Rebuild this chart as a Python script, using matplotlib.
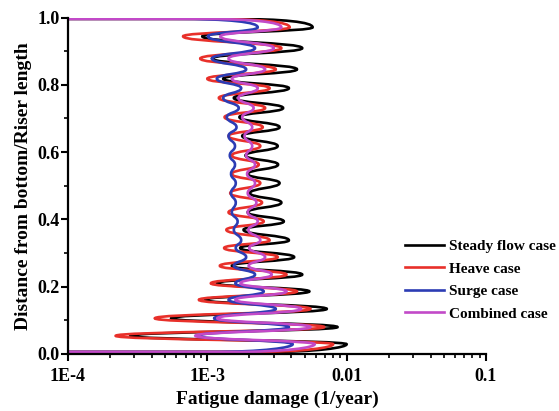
import matplotlib
matplotlib.use("Agg")
import matplotlib.pyplot as plt
from matplotlib.path import Path
from matplotlib.patches import PathPatch
from matplotlib.lines import Line2D
from matplotlib.ticker import FixedLocator, LogLocator, NullFormatter, MultipleLocator

plt.rcParams['font.family'] = ['Liberation Serif', 'DejaVu Serif']
plt.rcParams['font.weight'] = 'bold'

# Heights (fraction of riser length) of the local maxima / minima of the damage profiles
y_nodes = [0.029, 0.054, 0.080, 0.106, 0.134, 0.161, 0.186, 0.210, 0.236, 0.262,
           0.288, 0.315, 0.338, 0.369, 0.394, 0.421, 0.450, 0.478, 0.508, 0.535,
           0.563, 0.590, 0.618, 0.648, 0.674, 0.704, 0.731, 0.761, 0.790, 0.818,
           0.846, 0.878, 0.909, 0.944, 0.971]
y_bottom = 0.006
y_top = 0.996

# Fatigue damage (1/year) at those heights
steady = [0.0100, 2.8e-4, 0.0086, 5.5e-4, 0.0072, 9.6e-4, 0.0054, 1.17e-3, 0.0048, 1.5e-3,
          0.0042, 1.72e-3, 0.00385, 1.82e-3, 0.00354, 1.95e-3, 0.0034, 2.02e-3, 0.0033, 1.95e-3,
          0.00322, 1.88e-3, 0.0032, 1.78e-3, 0.0033, 1.7e-3, 0.0035, 1.55e-3, 0.00385, 1.3e-3,
          0.0044, 1.08e-3, 0.0048, 9.2e-4, 0.0057]
heave = [0.0080, 2.2e-4, 0.0069, 4.2e-4, 0.0055, 8.7e-4, 0.0044, 1.06e-3, 0.0037, 1.23e-3,
         0.0032, 1.32e-3, 0.0028, 1.37e-3, 0.00254, 1.42e-3, 0.00247, 1.46e-3, 0.0024, 1.5e-3,
         0.00234, 1.5e-3, 0.0024, 1.42e-3, 0.0025, 1.33e-3, 0.0026, 1.21e-3, 0.0028, 1.0e-3,
         0.0031, 8.9e-4, 0.0034, 6.7e-4, 0.0039]
surge = [0.0041, 8.6e-4, 0.00385, 1.12e-3, 0.0031, 1.42e-3, 0.00254, 1.59e-3, 0.0022, 1.55e-3,
         0.0019, 1.6e-3, 0.00175, 1.55e-3, 0.00165, 1.5e-3, 0.0016, 1.48e-3, 0.0016, 1.48e-3,
         0.00158, 1.45e-3, 0.00158, 1.42e-3, 0.00162, 1.38e-3, 0.00168, 1.3e-3, 0.00175, 1.17e-3,
         0.0019, 1.08e-3, 0.0022, 1.01e-3, 0.0023]
combined = [0.0059, 8.2e-4, 0.0055, 1.18e-3, 0.0047, 1.59e-3, 0.0037, 1.73e-3, 0.0029, 1.98e-3,
            0.0026, 2.0e-3, 0.0024, 1.97e-3, 0.0023, 1.95e-3, 0.00225, 1.95e-3, 0.0022, 1.93e-3,
            0.0022, 1.9e-3, 0.0021, 1.85e-3, 0.0021, 1.78e-3, 0.00215, 1.67e-3, 0.0023, 1.5e-3,
            0.0026, 1.42e-3, 0.0030, 1.24e-3, 0.0034]

labels = ['Steady flow case', 'Heave case', 'Surge case', 'Combined case']
colors = ['#000000', '#e8302a', '#2c3cb4', '#c24ac8']

x_ticks = [1e-4, 1e-3, 1e-2, 1e-1]
x_ticklabels = ['1E-4', '1E-3', '0.01', '0.1']
y_ticks = [0.0, 0.2, 0.4, 0.6, 0.8, 1.0]


def profile_path(xs, ys):
    """Smooth profile through the extrema (vertical tangents), with tails
    running off to the left along the riser ends."""
    k = 0.5
    verts, codes = [], []
    far = 1e-6
    x0, y0 = xs[0], ys[0]
    verts += [(far, y_bottom), (x0 * 10 ** -0.6, y_bottom)]
    codes += [Path.MOVETO, Path.LINETO]
    verts += [(x0 * 10 ** -0.2, y_bottom), (x0, y_bottom + 0.6 * (y0 - y_bottom)), (x0, y0)]
    codes += [Path.CURVE4] * 3
    for i in range(len(xs) - 1):
        xa, ya, xb, yb = xs[i], ys[i], xs[i + 1], ys[i + 1]
        dy = yb - ya
        verts += [(xa, ya + k * dy), (xb, yb - k * dy), (xb, yb)]
        codes += [Path.CURVE4] * 3
    xn, yn = xs[-1], ys[-1]
    verts += [(xn, yn + 0.6 * (y_top - yn)), (xn * 10 ** -0.2, y_top), (xn * 10 ** -0.6, y_top)]
    codes += [Path.CURVE4] * 3
    verts += [(far, y_top)]
    codes += [Path.LINETO]
    return Path(verts, codes)


fig = plt.figure(figsize=(5.59, 4.11), dpi=100)
ax = fig.add_axes([0.1216, 0.1387, 0.7478, 0.8187])
ax.set_xscale('log')
ax.set_xlim(1e-4, 1e-1)
ax.set_ylim(0.0, 1.0)

for xs, c in zip([steady, heave, surge, combined], colors):
    patch = PathPatch(profile_path(xs, y_nodes), facecolor='none', edgecolor=c,
                      lw=1.9, transform=ax.transData, clip_on=True, capstyle='butt')
    ax.add_patch(patch)

for side in ['top', 'right']:
    ax.spines[side].set_visible(False)
for side in ['left', 'bottom']:
    ax.spines[side].set_linewidth(1.6)

ax.xaxis.set_major_locator(FixedLocator(x_ticks))
ax.set_xticklabels(x_ticklabels)
ax.xaxis.set_minor_locator(LogLocator(base=10, subs=range(2, 10)))
ax.xaxis.set_minor_formatter(NullFormatter())
ax.yaxis.set_major_locator(FixedLocator(y_ticks))
ax.set_yticklabels([f'{v:.1f}' for v in y_ticks])
ax.yaxis.set_minor_locator(MultipleLocator(0.1))
ax.tick_params(which='major', direction='out', length=5, width=1.5, labelsize=13)
ax.tick_params(axis='x', which='major', pad=5)
ax.tick_params(axis='y', which='major', pad=1)
ax.tick_params(which='minor', direction='out', length=3, width=1.2)
for t in ax.get_xticklabels() + ax.get_yticklabels():
    t.set_fontweight('bold')

ax.set_xlabel('Fatigue damage (1/year)', fontsize=14, fontweight='bold', labelpad=4)
ax.set_ylabel('Distance from bottom/Riser length', fontsize=14, fontweight='bold', labelpad=4)

handles = [Line2D([], [], color=c, lw=1.9) for c in colors]
fig.legend(handles, labels, loc='center left', bbox_to_anchor=(394 / 559, 1 - 280 / 411),
           frameon=False, prop={'family': 'Liberation Serif', 'weight': 'bold', 'size': 11},
           handlelength=2.6, handletextpad=0.3, labelspacing=0.58, borderpad=0.2)

fig.savefig('out.png', dpi=100)
